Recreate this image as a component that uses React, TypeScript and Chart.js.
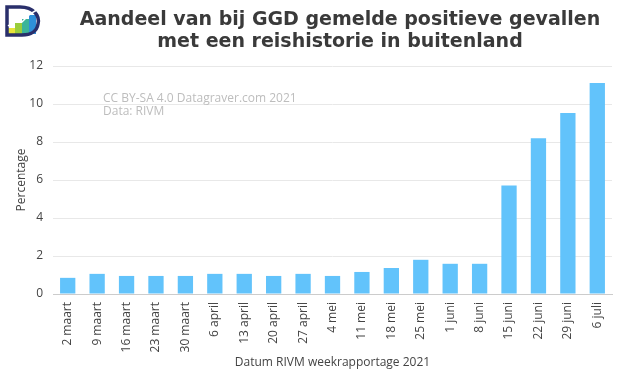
import React, { useEffect, useRef } from "react";
import { Chart, registerables } from "chart.js";

Chart.register(...registerables);

const categories = [
  "2 maart", "9 maart", "16 maart", "23 maart", "30 maart", "6 april", "13 april",
  "20 april", "27 april", "4 mei", "11 mei", "18 mei", "25 mei", "1 juni", "8 juni",
  "15 juni", "22 juni", "29 juni", "6 juli",
];
const percentages = [
  0.85, 1.06, 0.95, 0.95, 0.95, 1.06, 1.06, 0.95, 1.06, 0.95, 1.16, 1.37, 1.8, 1.59,
  1.59, 5.71, 8.2, 9.52, 11.1,
];
const titleLines = [
  "Aandeel van bij GGD gemelde positieve gevallen",
  "met een reishistorie in buitenland",
];
const watermarkLines = ["CC BY-SA 4.0 Datagraver.com 2021", "Data: RIVM"];

const FONT = "'Open Sans', 'Noto Sans', sans-serif";
const TITLE_FONT = "'DejaVu Sans', sans-serif";

const decorPlugin = {
  id: "decor",
  afterDraw(chart: any) {
    const ctx = chart.ctx;
    const area = chart.chartArea;
    ctx.save();
    // title (centred slightly right of the canvas centre, as in the original)
    ctx.fillStyle = "#3a3a3a";
    ctx.font = `bold 19px ${TITLE_FONT}`;
    ctx.textAlign = "center";
    ctx.textBaseline = "middle";
    titleLines.forEach((t, i) => ctx.fillText(t, 340, 20 + i * 22));
    // watermark
    ctx.fillStyle = "#bdbdbd";
    ctx.font = `12px ${FONT}`;
    ctx.textBaseline = "middle";
    ctx.textAlign = "left";
    watermarkLines.forEach((t, i) => ctx.fillText(t, area.left + 50, 99 + i * 13));
    // logo
    ctx.translate(4, 4);
    const cols = ["#e8e43a", "#9acd3c", "#3bb49a", "#2f8fd8"];
    const xs = [4, 11, 18, 25];
    const tops = [24, 19, 15, 11];
    cols.forEach((c, i) => {
      ctx.fillStyle = c;
      ctx.fillRect(xs[i], tops[i], 7, 30 - tops[i]);
    });
    ctx.strokeStyle = "#2a2f6b";
    ctx.lineWidth = 3.5;
    ctx.beginPath();
    ctx.moveTo(3, 31);
    ctx.lineTo(3, 3);
    ctx.lineTo(16, 3);
    ctx.bezierCurveTo(30, 3, 36, 12, 34, 20);
    ctx.bezierCurveTo(33, 27, 27, 31, 18, 31);
    ctx.closePath();
    ctx.stroke();
    ctx.strokeStyle = "#ffffff";
    ctx.lineWidth = 1.5;
    ctx.beginPath();
    ctx.moveTo(4, 22);
    ctx.lineTo(12, 16);
    ctx.lineTo(18, 18);
    ctx.lineTo(26, 10);
    ctx.lineTo(36, 4);
    ctx.stroke();
    ctx.restore();
  },
};

export default function App() {
  const ref = useRef<HTMLCanvasElement | null>(null);
  useEffect(() => {
    document.body.style.margin = "0";
    const chart = new Chart(ref.current as HTMLCanvasElement, {
      type: "bar",
      data: {
        labels: categories,
        datasets: [
          {
            data: percentages,
            backgroundColor: "#62c3fb",
            barPercentage: 0.52,
            categoryPercentage: 1,
          },
        ],
      },
      options: {
        animation: false,
        responsive: false,
        layout: { padding: { left: 14, right: 10, top: 66, bottom: 10 } },
        plugins: {
          legend: { display: false },
          tooltip: { enabled: false },
          title: { display: false },
        },
        scales: {
          x: {
            grid: { display: false, drawTicks: false },
            border: { color: "#cccccc" },
            afterFit: (scale: any) => {
              scale.height = 76;
            },
            ticks: {
              color: "#444444",
              font: { family: FONT, size: 12 },
              maxRotation: 90,
              minRotation: 90,
              padding: 8,
              autoSkip: false,
            },
            title: {
              display: true,
              text: "Datum RIVM weekrapportage 2021",
              color: "#444444",
              font: { family: FONT, size: 12 },
              padding: { top: 4, bottom: 0 },
            },
          },
          y: {
            min: 0,
            max: 12,
            grid: { color: "#e8e8e8", drawTicks: false },
            border: { display: false },
            afterFit: (scale: any) => {
              scale.width = 39;
            },
            ticks: {
              stepSize: 2,
              color: "#444444",
              font: { family: FONT, size: 12 },
              padding: 10,
            },
            title: {
              display: true,
              text: "Percentage",
              color: "#444444",
              font: { family: FONT, size: 12 },
              padding: { top: 0, bottom: 0 },
            },
          },
        },
      },
      plugins: [decorPlugin],
    });
    return () => chart.destroy();
  }, []);
  return (
    <div style={{ position: "absolute", left: 0, top: 0, width: 622, height: 380 }}>
      <canvas ref={ref} width={622} height={380} />
    </div>
  );
}
